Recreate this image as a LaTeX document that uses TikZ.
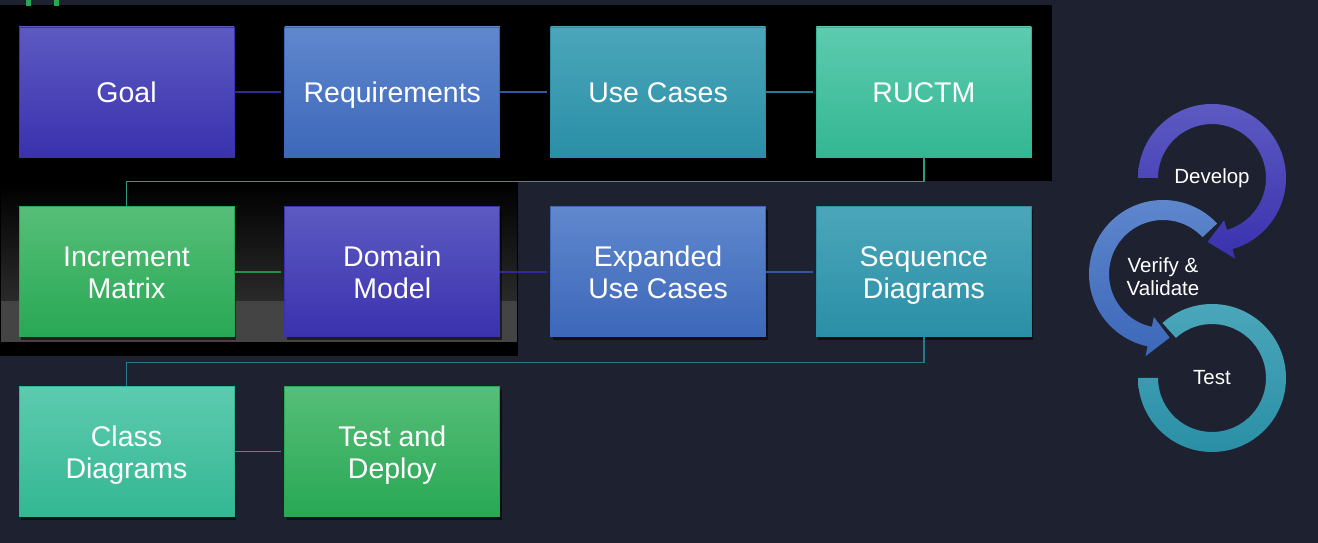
\documentclass[tikz,border=0pt]{standalone}
\usepackage{fontspec}
\setmainfont{Liberation Sans}
\usepackage{tikz}
\usetikzlibrary{positioning,shadows}

\definecolor{bg}{HTML}{1E2230}
\definecolor{violetT}{HTML}{5D5AC2}
\definecolor{violetB}{HTML}{3A31AE}
\definecolor{blueT}{HTML}{5F88CE}
\definecolor{blueB}{HTML}{3D67B9}
\definecolor{tealT}{HTML}{4BA6BA}
\definecolor{tealB}{HTML}{2A8FA6}
\definecolor{mintT}{HTML}{5DCBAF}
\definecolor{mintB}{HTML}{33B793}
\definecolor{greenT}{HTML}{56BE78}
\definecolor{greenB}{HTML}{28A854}
\definecolor{band}{HTML}{444444}
\definecolor{fade}{HTML}{2A2A2A}

\begin{document}
\begin{tikzpicture}[x=1pt, y=1pt, node distance={49pt and 50pt},
  main/.style = {minimum width=215pt, minimum height=130pt, inner sep=0pt, align=center, text=white,
    font=\fontsize{28.5}{32}\selectfont, line width=0.8pt, text height=20.5pt, text depth=0pt,
    drop shadow={shadow xshift=2pt, shadow yshift=-3pt, opacity=0.55, fill=black}},
  twoline/.style = {text height=53pt},
  violetbox/.style = {main, top color=violetT, bottom color=violetB, draw=violetB},
  bluebox/.style = {main, top color=blueT, bottom color=blueB, draw=blueB},
  tealbox/.style = {main, top color=tealT, bottom color=tealB, draw=tealB},
  mintbox/.style = {main, top color=mintT, bottom color=mintB, draw=mintB},
  greenbox/.style = {main, top color=greenT, bottom color=greenB, draw=greenB},
  link/.style = {line width=1.5pt, shorten >=3pt},
  cyc/.style = {text=white, align=center, font=\fontsize{20.5}{23}\selectfont}]

% backdrop
\fill[bg] (0,0) rectangle (1318,543);
\fill[black] (0,362) rectangle (1052,538);
\fill[black] (0,187) rectangle (518,362);
\shade[top color=black, bottom color=fade] (1,242) rectangle (517,360);
\fill[band] (1,201) rectangle (517,242);
\fill[greenB] (26,536.5) rectangle (31,543);
\fill[greenB] (54,536.5) rectangle (59,543);

% process boxes
\node[violetbox] (goal) at (126.5,451) {Goal};
\node[bluebox] (req) [right=of goal] {Requirements};
\node[tealbox] (uc) [right=of req] {Use Cases};
\node[mintbox] (ructm) [right=of uc] {RUCTM};
\node[greenbox, twoline] (incr) [below=of goal] {Increment\\Matrix};
\node[violetbox, twoline] (dom) [right=of incr] {Domain\\Model};
\node[bluebox, twoline] (euc) [right=of dom] {Expanded\\Use Cases};
\node[tealbox, twoline] (seq) [right=of euc] {Sequence\\Diagrams};
\node[mintbox, twoline] (cls) [below=of incr] {Class\\Diagrams};
\node[greenbox, twoline] (dep) [right=of cls] {Test and\\Deploy};

\draw[link, draw=violetB!85!black] (goal.east) -- (req.west);
\draw[link, draw=blueB!85!black] (req.east) -- (uc.west);
\draw[link, draw=tealB!85!black] (uc.east) -- (ructm.west);
\draw[link, draw=mintB!85!black, shorten >=0pt, line width=1.2pt] (ructm.south) -- ++(0,-24) -| (incr.north);
\draw[link, draw=greenB!85!black] (incr.east) -- (dom.west);
\draw[link, draw=violetB!85!black] (dom.east) -- (euc.west);
\draw[link, draw=blueB!85!black] (euc.east) -- (seq.west);
\draw[link, draw=tealB!85!black, shorten >=0pt, line width=1.2pt] (seq.south) -- ++(0,-25) -| (cls.north);
\draw[link, draw=mintB!85!black] (cls.east) -- (dep.west);

% cycle
\begin{scope}[shift={(1212,165)}]
\shade[top color=tealT, bottom color=tealB] (180:54) -- (180:74) arc[start angle=180, end angle=492, radius=74]
  -- (132:54) arc[start angle=492, end angle=180, radius=54] -- cycle;
\end{scope}
\begin{scope}[shift={(1163,269)}]
\shade[top color=blueT, bottom color=blueB] (43:54) -- (43:74) arc[start angle=43, end angle=258, radius=74]
  -- (258:84) -- (276:64) -- (258:44) -- (258:54) arc[start angle=258, end angle=43, radius=54] -- cycle;
\end{scope}
\begin{scope}[shift={(1212,365)}]
\shade[top color=violetT, bottom color=violetB] (180:54) -- (180:74) arc[start angle=180, end angle=-74, radius=74]
  -- (-74:84) -- (-94:64) -- (-74:44) -- (-74:54) arc[start angle=-74, end angle=180, radius=54] -- cycle;
\end{scope}
\node[cyc] (dev) at (1212,365) {Develop};
\node[cyc] (ver) at (1163,266) {Verify \&\\Validate};
\node[cyc] (tst) at (1212,165) {Test};
\end{tikzpicture}
\end{document}
